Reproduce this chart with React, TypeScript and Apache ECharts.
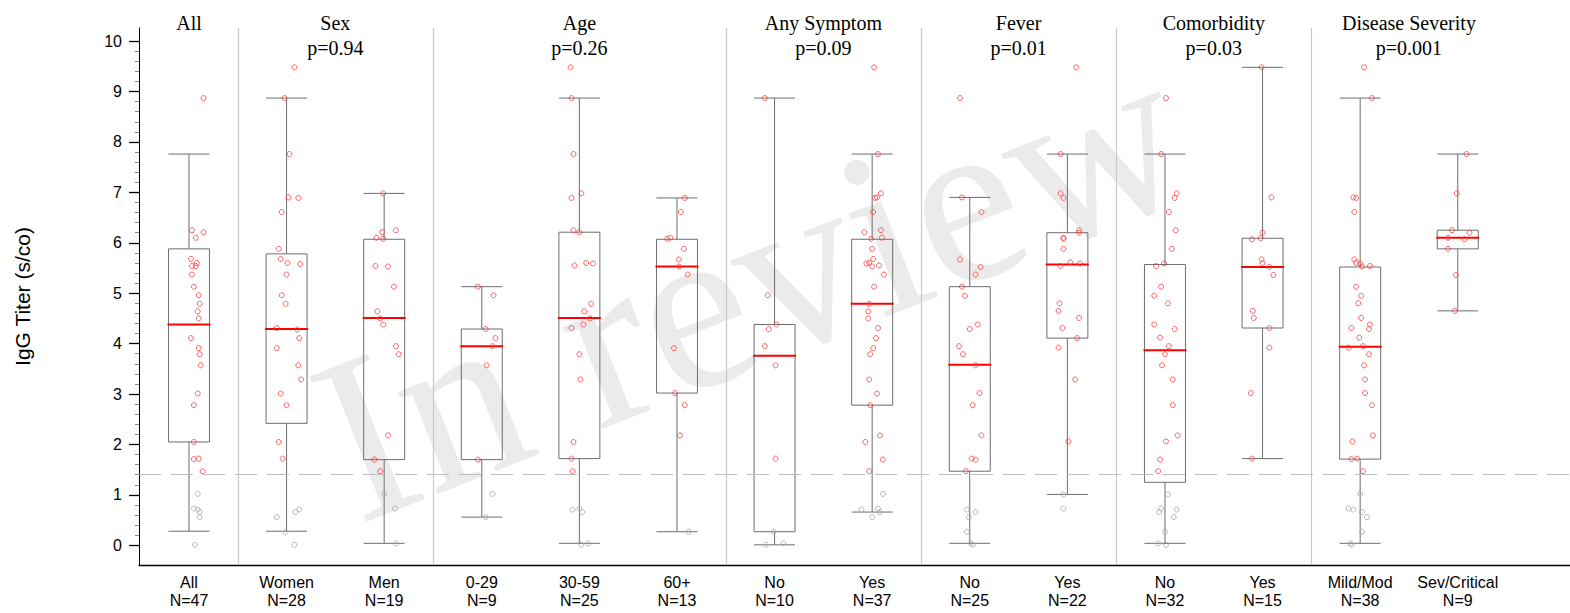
import React, { useEffect, useRef } from "react";
import * as echarts from "echarts";

// ---------- data ----------
const catNames = ["All", "Women", "Men", "0-29", "30-59", "60+", "No", "Yes", "No", "Yes", "No", "Yes", "Mild/Mod", "Sev/Critical"];
const catN = [47, 28, 19, 9, 25, 13, 10, 37, 25, 22, 32, 15, 38, 9];

const groupNames = ["All", "Sex", "Age", "Any Symptom", "Fever", "Comorbidity", "Disease Severity"];
const groupP = ["", "p=0.94", "p=0.26", "p=0.09", "p=0.01", "p=0.03", "p=0.001"];
const groupFirst = [0, 1, 3, 6, 8, 10, 12];
const groupLast = [0, 2, 5, 7, 9, 11, 13];

const boxMin = [0.28, 0.28, 0.04, 0.56, 0.04, 0.27, 0.01, 0.66, 0.04, 1.01, 0.04, 1.72, 0.04, 4.65];
const boxQ1 = [2.05, 2.42, 1.7, 1.7, 1.72, 3.02, 0.27, 2.78, 1.47, 4.11, 1.25, 4.31, 1.71, 5.88];
const boxMedian = [4.38, 4.29, 4.51, 3.95, 4.51, 5.53, 3.76, 4.79, 3.58, 5.57, 3.87, 5.52, 3.94, 6.1];
const boxQ3 = [5.88, 5.78, 6.07, 4.29, 6.21, 6.07, 4.38, 6.07, 5.13, 6.2, 5.57, 6.09, 5.52, 6.25];
const boxMax = [7.76, 8.87, 6.98, 5.13, 8.87, 6.89, 8.87, 7.76, 6.9, 7.76, 7.76, 9.48, 8.87, 7.76];

const threshold = 1.4;

// [jitter (category units), IgG titer]
const ptsAll = [[0.15, 8.87], [0.03, 6.25], [0.15, 6.21], [0.07, 6.1], [0.02, 5.68], [0.08, 5.6], [0.03, 5.54], [0.07, 5.54], [0.03, 5.37], [0.05, 5.13], [0.1, 4.96], [0.11, 4.79], [0.09, 4.64], [0.1, 4.5], [0.02, 4.11], [0.1, 3.91], [0.11, 3.79], [0.12, 3.57], [0.09, 3.01], [0.05, 2.78], [0.05, 2.05], [0.05, 1.71], [0.1, 1.72], [0.14, 1.47], [0.09, 1.02], [0.05, 0.73], [0.09, 0.71], [0.11, 0.66], [0.11, 0.56], [0.06, 0.01]];
const ptsWomen = [[0.08, 9.48], [-0.02, 8.87], [0.03, 7.76], [0.02, 6.9], [0.12, 6.89], [-0.05, 6.61], [-0.08, 5.88], [-0.06, 5.68], [0.01, 5.6], [0.14, 5.58], [0.0, 5.37], [-0.05, 4.96], [-0.01, 4.79], [-0.1, 4.31], [0.11, 4.28], [0.13, 4.11], [-0.1, 3.91], [0.12, 3.57], [0.15, 3.29], [-0.06, 3.01], [0.0, 2.78], [-0.08, 2.05], [-0.04, 1.72], [-0.1, 0.56], [0.09, 0.66], [0.13, 0.71], [-0.01, 0.26], [0.08, 0.01]];
const ptsMen = [[-0.01, 6.98], [0.12, 6.25], [-0.02, 6.21], [-0.08, 6.1], [-0.01, 6.08], [-0.09, 5.54], [0.04, 5.53], [0.1, 5.13], [-0.07, 4.64], [-0.04, 4.5], [-0.01, 4.38], [0.12, 3.95], [0.15, 3.79], [0.04, 2.18], [-0.1, 1.7], [-0.04, 1.47], [0.0, 1.02], [0.11, 0.73], [0.12, 0.04]];
const ptsAge029 = [[-0.04, 5.13], [0.12, 4.96], [0.04, 4.29], [0.14, 4.11], [0.11, 3.95], [0.05, 3.57], [-0.04, 1.7], [0.11, 1.02], [0.04, 0.56]];
const ptsAge3059 = [[-0.09, 9.48], [-0.08, 8.87], [-0.06, 7.76], [0.02, 6.98], [-0.08, 6.89], [-0.06, 6.25], [0.0, 6.21], [-0.05, 5.55], [0.07, 5.6], [0.14, 5.59], [0.12, 4.79], [0.05, 4.64], [0.11, 4.5], [0.04, 4.38], [-0.08, 4.31], [0.0, 3.79], [0.01, 3.29], [-0.06, 2.05], [-0.08, 1.72], [-0.07, 1.47], [-0.07, 0.71], [0.0, 0.73], [0.03, 0.66], [0.02, 0.01], [0.09, 0.04]];
const ptsAge60 = [[0.08, 6.89], [0.04, 6.61], [-0.1, 6.08], [-0.07, 6.1], [0.07, 5.88], [0.02, 5.67], [0.02, 5.53], [0.11, 5.37], [-0.03, 3.91], [-0.02, 3.02], [0.08, 2.78], [0.03, 2.18], [0.12, 0.27]];
const ptsSymNo = [[-0.1, 8.87], [-0.07, 4.96], [0.02, 4.38], [-0.06, 4.29], [-0.1, 3.95], [0.01, 3.57], [0.01, 1.72], [-0.01, 0.27], [-0.09, 0.01], [0.09, 0.04]];
const ptsSymYes = [[0.02, 9.48], [0.06, 7.76], [0.09, 6.98], [0.03, 6.89], [0.05, 6.9], [0.01, 6.61], [-0.08, 6.21], [0.09, 6.25], [-0.01, 6.08], [0.1, 6.1], [0.0, 5.88], [0.01, 5.68], [-0.06, 5.59], [-0.03, 5.6], [0.0, 5.53], [0.07, 5.55], [0.12, 5.37], [0.02, 5.13], [-0.03, 4.79], [-0.04, 4.64], [-0.04, 4.5], [0.06, 4.31], [0.04, 4.11], [0.01, 3.91], [-0.02, 3.79], [-0.03, 3.29], [0.05, 3.01], [-0.02, 2.78], [0.08, 2.18], [-0.07, 2.05], [0.11, 1.7], [-0.03, 1.47], [0.11, 1.02], [-0.11, 0.71], [0.06, 0.73], [0.08, 0.66], [0.0, 0.56]];
const ptsFevNo = [[-0.1, 8.87], [-0.08, 6.9], [0.12, 6.61], [-0.1, 5.67], [0.11, 5.52], [0.06, 5.37], [-0.08, 5.13], [-0.05, 4.95], [0.08, 4.38], [0.0, 4.29], [-0.11, 3.95], [-0.07, 3.79], [0.06, 3.57], [0.1, 3.02], [0.03, 2.78], [0.12, 2.18], [0.02, 1.72], [0.06, 1.7], [-0.04, 1.47], [-0.03, 0.71], [0.06, 0.66], [-0.01, 0.56], [-0.03, 0.27], [0.01, 0.04], [0.03, 0.01]];
const ptsFevYes = [[0.09, 9.48], [-0.07, 7.76], [-0.07, 6.98], [-0.04, 6.89], [0.12, 6.25], [0.12, 6.2], [-0.04, 6.1], [-0.04, 6.08], [-0.04, 5.88], [0.03, 5.61], [0.13, 5.59], [-0.07, 5.54], [-0.08, 4.8], [-0.09, 4.65], [0.12, 4.51], [-0.05, 4.31], [0.1, 4.11], [-0.09, 3.92], [0.08, 3.29], [0.01, 2.06], [-0.04, 1.01], [-0.04, 0.73]];
const ptsComNo = [[0.01, 8.87], [-0.04, 7.76], [0.12, 6.98], [0.1, 6.89], [0.04, 6.61], [0.11, 6.25], [0.07, 5.88], [-0.09, 5.54], [-0.01, 5.59], [-0.04, 5.13], [-0.11, 4.95], [0.03, 4.8], [-0.11, 4.38], [0.1, 4.29], [-0.05, 4.12], [0.04, 3.95], [0.0, 3.79], [-0.03, 3.57], [0.08, 3.29], [0.08, 2.78], [0.13, 2.18], [0.01, 2.06], [-0.05, 1.7], [-0.07, 1.47], [0.03, 1.01], [-0.04, 0.73], [-0.06, 0.66], [0.12, 0.71], [0.09, 0.56], [0.0, 0.27], [-0.07, 0.04], [0.01, 0.01]];
const ptsComYes = [[-0.01, 9.48], [0.09, 6.9], [0.0, 6.2], [-0.02, 6.09], [-0.11, 6.07], [-0.01, 5.67], [0.0, 5.6], [0.07, 5.52], [0.11, 5.36], [-0.1, 4.65], [-0.09, 4.51], [0.07, 4.31], [0.07, 3.92], [-0.12, 3.02], [-0.11, 1.72]];
const ptsMild = [[0.04, 9.48], [0.12, 8.87], [-0.07, 6.9], [-0.04, 6.89], [-0.06, 6.61], [-0.06, 5.67], [-0.04, 5.6], [0.0, 5.59], [0.02, 5.53], [0.1, 5.54], [-0.04, 5.13], [0.01, 4.95], [-0.02, 4.8], [0.01, 4.51], [0.1, 4.38], [0.09, 4.29], [-0.09, 4.31], [-0.01, 4.12], [-0.12, 3.92], [0.03, 3.95], [0.09, 3.79], [0.04, 3.57], [0.05, 3.29], [0.05, 3.02], [0.12, 2.78], [0.13, 2.18], [-0.08, 2.06], [-0.09, 1.71], [-0.03, 1.72], [0.03, 1.47], [0.0, 1.02], [-0.12, 0.73], [-0.07, 0.71], [0.02, 0.66], [0.07, 0.56], [0.02, 0.27], [-0.1, 0.04], [-0.09, 0.01]];
const ptsSev = [[0.09, 7.76], [-0.01, 6.98], [-0.06, 6.25], [0.12, 6.2], [-0.1, 6.1], [0.07, 6.07], [-0.1, 5.88], [-0.02, 5.36], [-0.03, 4.65]];

const pointsByCategory = [ptsAll, ptsWomen, ptsMen, ptsAge029, ptsAge3059, ptsAge60, ptsSymNo, ptsSymYes, ptsFevNo, ptsFevYes, ptsComNo, ptsComYes, ptsMild, ptsSev];

const yTickValues = [0, 1, 2, 3, 4, 5, 6, 7, 8, 9, 10];

// ---------- component ----------
const SANS = '"Liberation Sans", Arial, Helvetica, sans-serif';
const SERIF = '"Liberation Serif", "Times New Roman", Times, serif';

export default function App() {
  const ref = useRef<HTMLDivElement>(null);

  useEffect(() => {
    if (!ref.current) return;
    const chart = echarts.init(ref.current, undefined, { renderer: "svg" });

    const redPts: number[][] = [];
    const grayPts: number[][] = [];
    pointsByCategory.forEach((arr, ci) => {
      arr.forEach(([j, v]) => {
        (v < threshold ? grayPts : redPts).push([ci + j, v]);
      });
    });

    const minorTicks: number[] = [];
    for (let i = 0; i <= 50; i++) {
      if (i % 5 !== 0) minorTicks.push(Math.round(i * 2) / 10);
    }

    const separators = groupFirst.slice(1).map((f) => ({ xAxis: f - 0.5 }));

    const stroke = "#6e6e6e";

    const option: any = {
      animation: false,
      textStyle: { fontFamily: SANS },
      grid: { left: 139, right: 0, top: 28, bottom: 48, containLabel: false },
      xAxis: {
        type: "value",
        min: -0.512,
        max: 14.15,
        splitLine: { show: false },
        axisLine: { show: true, onZero: false, lineStyle: { color: "#000", width: 1.3 } },
        axisTick: { show: false },
        axisLabel: {
          customValues: catNames.map((_, i) => i),
          formatter: (v: number) => {
            const i = Math.round(v);
            return catNames[i] + "\nN=" + catN[i];
          },
          color: "#000",
          fontSize: 16,
          lineHeight: 18,
          margin: 8,
          fontFamily: SANS,
        },
      },
      yAxis: [
        {
          type: "value",
          min: -0.39,
          max: 10.26,
          position: "left",
          name: "IgG Titer (s/co)",
          nameLocation: "middle",
          nameRotate: 90,
          nameGap: 106,
          nameTextStyle: { fontSize: 21, color: "#000", fontFamily: SANS },
          splitLine: { show: false },
          axisLine: { show: true, onZero: false, lineStyle: { color: "#000", width: 1 } },
          axisTick: { show: true, customValues: yTickValues, length: 10, lineStyle: { color: "#000", width: 1.3 } },
          axisLabel: { customValues: yTickValues, color: "#000", fontSize: 16, margin: 17, fontFamily: SANS },
        },
        {
          type: "value",
          min: -0.39,
          max: 10.26,
          position: "left",
          splitLine: { show: false },
          axisLine: { show: false, onZero: false },
          axisLabel: { show: false },
          axisTick: { show: true, customValues: minorTicks, length: 4, lineStyle: { color: "#8a8a8a", width: 1 } },
        },
      ],
      graphic: {
        elements: [
          {
            type: "text",
            x: 750,
            y: 284,
            rotation: (21.5 * Math.PI) / 180,
            z: -100,
            silent: true,
            style: {
              text: "In review",
              fill: "#ebebeb",
              font: `238px ${SERIF}`,
              textAlign: "center",
              textVerticalAlign: "middle",
              align: "center",
              verticalAlign: "middle",
            },
          },
        ],
      },
      series: [
        {
          type: "custom",
          name: "boxes",
          z: 3,
          encode: { x: 0, y: [1, 2, 3, 4, 5] },
          data: catNames.map((_, i) => [i, boxMin[i], boxQ1[i], boxMedian[i], boxQ3[i], boxMax[i]]),
          renderItem: (params: any, api: any) => {
            const x = api.value(0);
            const half = api.size([0.42, 0])[0] / 2;
            const pMin = api.coord([x, api.value(1)]);
            const cx = pMin[0];
            const yMin = pMin[1];
            const yQ1 = api.coord([x, api.value(2)])[1];
            const yMed = api.coord([x, api.value(3)])[1];
            const yQ3 = api.coord([x, api.value(4)])[1];
            const yMax = api.coord([x, api.value(5)])[1];
            const ls = { stroke, lineWidth: 1 };
            return {
              type: "group",
              children: [
                { type: "line", shape: { x1: cx, y1: yMin, x2: cx, y2: yQ1 }, style: ls },
                { type: "line", shape: { x1: cx, y1: yQ3, x2: cx, y2: yMax }, style: ls },
                { type: "line", shape: { x1: cx - half, y1: yMin, x2: cx + half, y2: yMin }, style: ls },
                { type: "line", shape: { x1: cx - half, y1: yMax, x2: cx + half, y2: yMax }, style: ls },
                { type: "rect", shape: { x: cx - half, y: yQ3, width: 2 * half, height: yQ1 - yQ3 }, style: { stroke, fill: "none", lineWidth: 1 } },
                { type: "line", shape: { x1: cx - half - 1, y1: yMed, x2: cx + half + 1, y2: yMed }, style: { stroke: "#ff0000", lineWidth: 2 } },
              ],
            };
          },
        },
        {
          type: "custom",
          name: "headers",
          z: 5,
          clip: false,
          encode: { x: 0, y: 1 },
          data: groupNames.map((_, i) => [(groupFirst[i] + groupLast[i]) / 2, 5, i]),
          renderItem: (params: any, api: any) => {
            const gi = api.value(2);
            const cx = api.coord([api.value(0), 5])[0];
            const base = { fill: "#000", font: `20px ${SERIF}`, align: "center", verticalAlign: "middle", textAlign: "center", textVerticalAlign: "middle" };
            const children: any[] = [{ type: "text", x: cx, y: 23, style: { ...base, text: groupNames[gi] } }];
            if (groupP[gi]) children.push({ type: "text", x: cx, y: 48, style: { ...base, text: groupP[gi] } });
            return { type: "group", children };
          },
        },
        {
          type: "scatter",
          name: "below",
          z: 4,
          symbol: "circle",
          symbolSize: 5,
          itemStyle: { color: "rgba(255,255,255,0)", borderColor: "#a6a6a6", borderWidth: 1 },
          data: grayPts,
          markLine: {
            silent: true,
            symbol: "none",
            label: { show: false },
            data: [
              ...separators.map((s) => ({ ...s, lineStyle: { color: "#c8c8c8", type: "solid", width: 1.2 } })),
              { yAxis: threshold, lineStyle: { color: "#bdbdbd", type: [22, 10], width: 1 } },
            ],
          },
        },
        {
          type: "scatter",
          name: "above",
          z: 4,
          symbol: "circle",
          symbolSize: 5,
          itemStyle: { color: "rgba(255,255,255,0)", borderColor: "#ff3b3b", borderWidth: 1 },
          data: redPts,
        },
      ],
    };

    chart.setOption(option);
    return () => chart.dispose();
  }, []);

  return (
    <div
      ref={ref}
      style={{ position: "fixed", left: 0, top: 0, width: 1570, height: 613, background: "#fff" }}
    />
  );
}
